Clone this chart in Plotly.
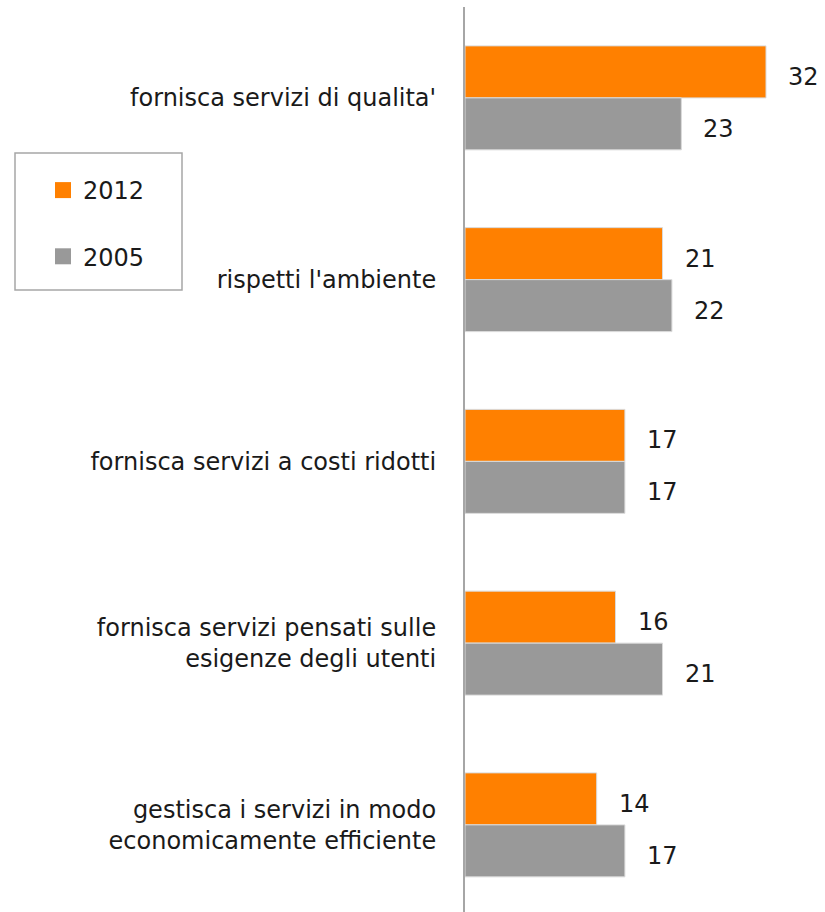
import plotly.graph_objects as go

categories = [
    "fornisca servizi di qualita'",
    "rispetti l'ambiente",
    "fornisca servizi a costi ridotti",
    "fornisca servizi pensati sulle<br>esigenze degli utenti",
    "gestisca i servizi in modo<br>economicamente efficiente",
]
values_2012 = [32, 21, 17, 16, 14]
values_2005 = [23, 22, 17, 21, 17]
series_names = ["2012", "2005"]

ORANGE = "#FF8000"
GRAY = "#999999"
FONT = "DejaVu Sans"
FS = 24

W, H = 825, 912
ML, MR, MT, MB = 465, 0, 7, 0
plot_w = W - ML - MR
plot_h = H - MT - MB

fig = go.Figure()

for name, vals, col in [(series_names[0], values_2012, ORANGE),
                        (series_names[1], values_2005, GRAY)]:
    fig.add_trace(go.Bar(
        y=categories, x=vals, name=name, orientation="h",
        marker=dict(color=col, line=dict(color="#DADADA", width=1)),
        showlegend=False, hoverinfo="skip",
    ))

# legend entries drawn as square markers
for i, (name, col) in enumerate([(series_names[0], ORANGE), (series_names[1], GRAY)]):
    fig.add_trace(go.Scatter(
        x=[None], y=[None], mode="markers", name=name,
        legendgroup=f"g{i}",
        marker=dict(symbol="square", size=16, color=col),
    ))

# value labels beside each bar
annotations = []
for vals, yshift in [(values_2012, 21), (values_2005, -31)]:
    for cat, v in zip(categories, vals):
        annotations.append(dict(
            x=v, y=cat, xref="x", yref="y", text=str(v), showarrow=False,
            xanchor="left", yanchor="middle", xshift=20, yshift=yshift,
            font=dict(family=FONT, size=FS, color="#1A1A1A"),
        ))

px_per_cat = 181.75
n_units = plot_h / px_per_cat

def px_x(px):
    return (px - ML) / plot_w

def px_y(py):
    return 1 - (py - MT) / plot_h

fig.update_layout(
    width=W, height=H,
    margin=dict(l=ML, r=MR, t=MT, b=MB),
    paper_bgcolor="white", plot_bgcolor="white",
    barmode="group", bargap=0.428, bargroupgap=0,
    font=dict(family=FONT, size=FS, color="#1A1A1A"),
    xaxis=dict(range=[0, plot_w / 9.406], visible=False, fixedrange=True),
    yaxis=dict(
        type="category", range=[n_units - 0.5, -0.5],
        showline=True, linecolor="#A6A6A6", linewidth=2,
        showgrid=False, zeroline=False, ticks="",
        ticklabelstandoff=22,
        tickfont=dict(family=FONT, size=FS, color="#1A1A1A"),
    ),
    showlegend=True,
    legend=dict(
        x=px_x(43), y=px_y(168), xanchor="left", yanchor="top",
        bgcolor="rgba(0,0,0,0)", borderwidth=0,
        tracegroupgap=32, itemsizing="trace",
        font=dict(family=FONT, size=FS, color="#1A1A1A"),
    ),
    annotations=annotations,
    shapes=[dict(
        type="rect", xref="paper", yref="paper",
        x0=px_x(15), x1=px_x(182), y0=px_y(290), y1=px_y(153),
        line=dict(color="#A6A6A6", width=1.5), fillcolor="rgba(0,0,0,0)",
    )],
)

fig.write_html("out.html")
